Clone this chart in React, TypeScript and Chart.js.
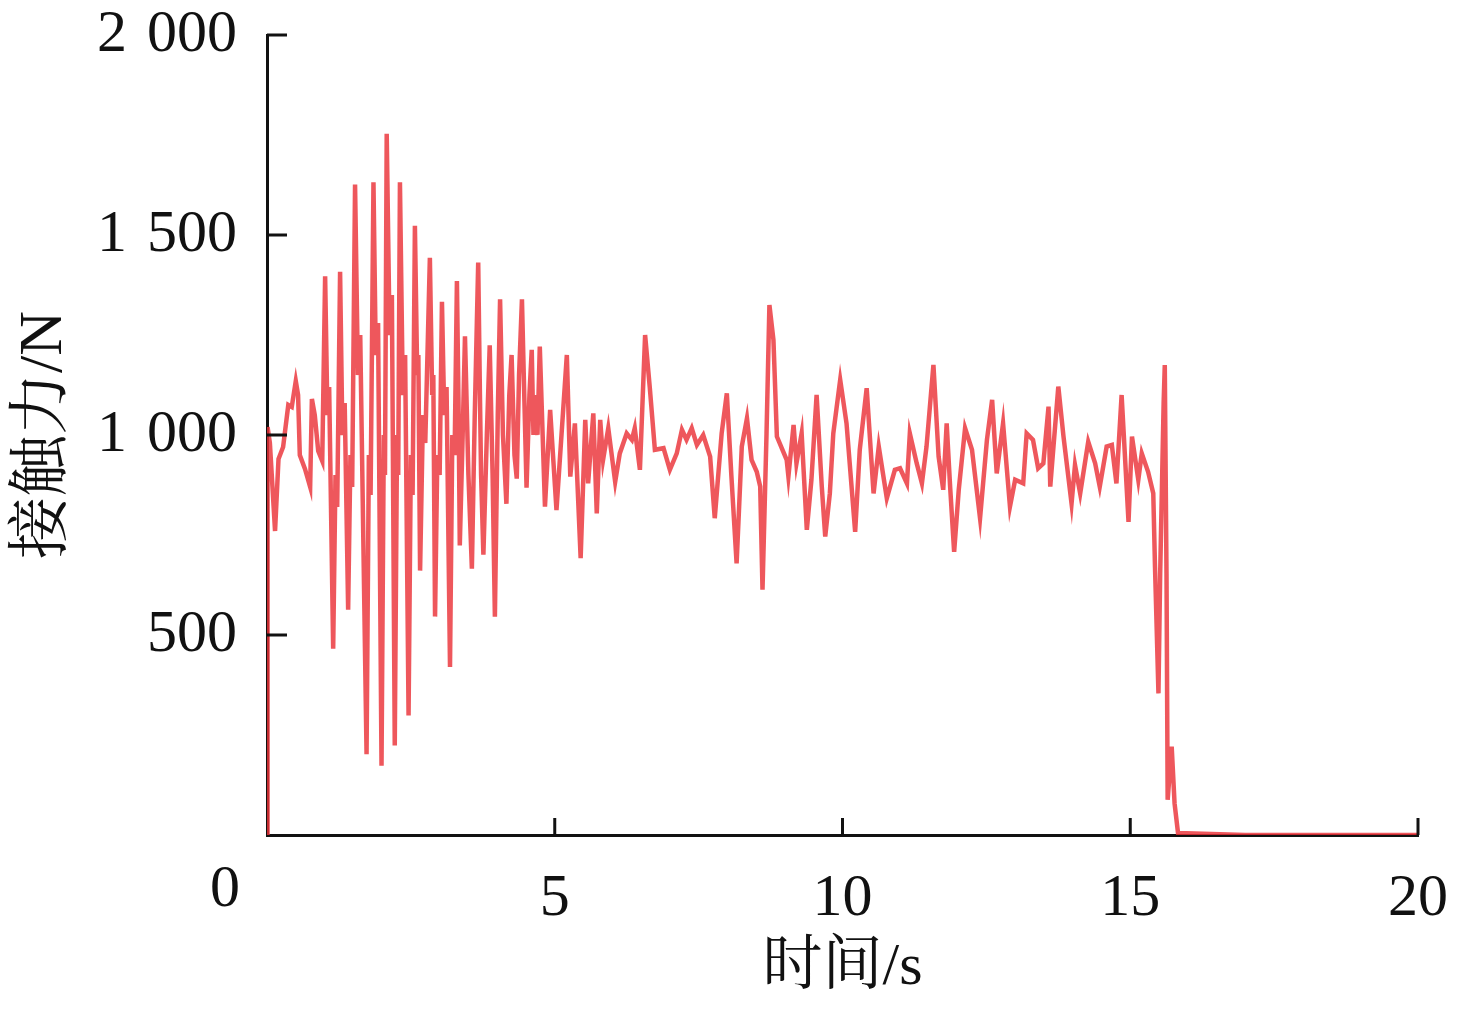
import React, { useEffect, useRef } from "react";
import { Chart, registerables } from "chart.js";

Chart.register(...registerables);

const times: number[] = [
  0.0, 0.01, 0.05, 0.14, 0.2, 0.28, 0.37, 0.43, 0.5, 0.54, 0.57, 0.66, 0.75, 0.78, 0.83, 0.89, 0.96,
  1.01, 1.05, 1.08, 1.15, 1.19, 1.22, 1.27, 1.31, 1.35, 1.41, 1.45, 1.48, 1.53, 1.58, 1.62, 1.73, 1.77,
  1.8, 1.85, 1.89, 1.93, 1.99, 2.03, 2.05, 2.08, 2.13, 2.17, 2.22, 2.26, 2.28, 2.31, 2.36, 2.4, 2.46,
  2.5, 2.53, 2.57, 2.61, 2.63, 2.66, 2.71, 2.75, 2.83, 2.87, 2.89, 2.92, 2.96, 3.0, 3.04, 3.08, 3.12,
  3.18, 3.22, 3.26, 3.3, 3.33, 3.35, 3.4, 3.44, 3.5, 3.56, 3.61, 3.67, 3.7, 3.72, 3.76, 3.82, 3.87,
  3.92, 3.96, 4.01, 4.05, 4.1, 4.16, 4.21, 4.25, 4.3, 4.34, 4.38, 4.43, 4.47, 4.51, 4.56, 4.6, 4.63,
  4.66, 4.7, 4.74, 4.83, 4.92, 5.03, 5.21, 5.27, 5.35, 5.45, 5.53, 5.58, 5.67, 5.73,
  5.79, 5.84, 5.93, 6.05, 6.13, 6.25, 6.34, 6.39, 6.48, 6.57, 6.65, 6.74, 6.89, 7.0, 7.12, 7.21, 7.29,
  7.38, 7.47, 7.58, 7.7, 7.78, 7.9, 7.99, 8.07, 8.16, 8.25, 8.34, 8.42, 8.51, 8.57, 8.61, 8.68, 8.73,
  8.8, 8.86, 9.03, 9.06, 9.15, 9.2, 9.29, 9.38, 9.46, 9.55, 9.64, 9.7, 9.78, 9.84, 9.96, 10.07, 10.22,
  10.3, 10.42, 10.54, 10.63, 10.77, 10.91, 11.0, 11.12, 11.17, 11.29, 11.38, 11.46, 11.58, 11.67, 11.75,
  11.81, 11.87, 11.94, 12.02, 12.13, 12.25, 12.39, 12.51, 12.6, 12.68, 12.79, 12.91, 13.0, 13.14, 13.2,
  13.31, 13.4, 13.49, 13.58, 13.61, 13.75, 13.84, 13.98, 14.04, 14.13, 14.27, 14.39, 14.47, 14.59, 14.68,
  14.76, 14.85, 14.97, 15.03, 15.14, 15.2, 15.31, 15.4, 15.43, 15.49, 15.52, 15.58, 15.6, 15.63, 15.65,
  15.72, 15.77, 15.83, 17.0, 18.5, 20.0,
];

const forces: number[] = [
  0, 1020, 980, 760, 940, 970, 1075, 1070, 1135, 1100, 950, 915, 870, 1090, 1050, 960, 935,
  1397, 1050, 1120, 466, 900, 820, 1408, 1000, 1080, 563, 950, 870, 1626, 1150, 1250, 202, 950,
  850, 1632, 1200, 1280, 173, 1000, 900, 1753, 1250, 1350, 224, 1000, 900, 1632, 1100, 1200, 299,
  950, 850, 1523, 1150, 1200, 661, 1050, 980, 1443, 1100, 1150, 546, 950, 900, 1333, 1050, 1120,
  420, 1000, 950, 1385, 1050, 724, 1000, 1247, 900, 666, 1050, 1431, 1100, 900, 701, 1000, 1224,
  900, 546, 1050, 1339, 1000, 828, 1100, 1200, 950, 891, 1150, 1339, 1100, 868, 1100, 1213, 1000,
  1100, 1000, 1221, 821, 1063, 812, 1200, 896, 1029, 692, 1038, 879, 1054, 804,
  1038, 938, 1017, 883, 954, 1004, 988, 1017, 913, 1250, 1121, 963, 967, 913, 954, 1013, 988,
  1017, 975, 1000, 946, 792, 1004, 1104, 896, 679, 971, 1042, 938, 908, 871, 613, 1004, 1325,
  1238, 996, 938, 896, 1025, 929, 1004, 763, 888, 1100, 871, 746, 854, 1004, 1138, 1029, 758,
  963, 1117, 854, 971, 842, 913, 917, 879, 1004, 929, 879, 971, 1175, 946, 863,
  1029, 871, 708, 863, 1017, 963, 792, 988, 1088, 904, 1029, 821, 888, 879, 1004,
  988, 917, 929, 1071, 871, 1121, 996, 829, 925, 854, 983, 929, 871, 971, 975,
  879, 1100, 783, 996, 888, 954, 908, 854, 671, 354, 654, 1079, 1175, 654, 88,
  221, 79, 5, 0, 0, 0,
];

const xTicks: number[] = [0, 5, 10, 15, 20];
const yTicks: number[] = [0, 500, 1000, 1500, 2000];
const xTitle = "时间/s";
const yTitle = "接触力/N";

const FONT = "'Liberation Serif', 'Times New Roman', 'Noto Serif CJK SC', 'Noto Sans CJK SC', serif";

function fmtY(v: number): string {
  if (v === 0) return "";
  if (v >= 1000) {
    const th = Math.floor(v / 1000);
    const rest = String(v % 1000).padStart(3, "0");
    return th + "\u2004" + rest;
  }
  return String(v);
}

export default function App() {
  const ref = useRef<HTMLCanvasElement | null>(null);

  useEffect(() => {
    document.body.style.margin = "0";
    const canvas = ref.current;
    if (!canvas) return;

    const tickPlugin = {
      id: "inwardTicks",
      afterDraw(chart: any) {
        const ctx = chart.ctx;
        const xs = chart.scales.x;
        const ys = chart.scales.y;
        const area = chart.chartArea;
        ctx.save();
        ctx.strokeStyle = "#111";
        ctx.lineWidth = 3;
        yTicks.forEach((v) => {
          if (v === 0) return;
          const y = ys.getPixelForValue(v);
          ctx.beginPath();
          ctx.moveTo(area.left, y);
          ctx.lineTo(area.left + 20, y);
          ctx.stroke();
        });
        xTicks.forEach((v) => {
          if (v === 0) return;
          const x = xs.getPixelForValue(v);
          ctx.beginPath();
          ctx.moveTo(x, area.bottom);
          ctx.lineTo(x, area.bottom - 17);
          ctx.stroke();
        });
        ctx.fillStyle = "#111";
        ctx.font = "60px " + FONT;
        ctx.textAlign = "center";
        ctx.textBaseline = "middle";
        ctx.fillText("0", area.left - 42, area.bottom + 55);
        ctx.restore();
      },
    };

    const chart = new Chart(canvas, {
      type: "line",
      data: {
        datasets: [
          {
            data: times.map((t, i) => ({ x: t, y: forces[i] })),
            borderColor: "rgba(234, 50, 56, 0.82)",
            borderWidth: 4.5,
            pointRadius: 0,
            tension: 0,
            fill: false,
          },
        ],
      },
      options: {
        responsive: false,
        animation: false,
        events: [],
        layout: { padding: { left: 0, right: 39, top: 35, bottom: 0 } },
        plugins: { legend: { display: false }, tooltip: { enabled: false } },
        scales: {
          x: {
            type: "linear",
            min: 0,
            max: 20,
            afterFit(scale: any) {
              scale.height = 175;
              scale.paddingLeft = 0;
              scale.paddingRight = 0;
            },
            afterBuildTicks(scale: any) {
              scale.ticks = xTicks.map((v) => ({ value: v }));
            },
            grid: { display: false },
            border: { display: true, color: "#111", width: 3 },
            ticks: {
              color: "#111",
              font: { family: FONT, size: 60 },
              padding: 20,
              maxRotation: 0,
              callback: (v: any) => (v === 0 ? "" : String(v)),
            },
            title: {
              display: true,
              text: xTitle,
              color: "#111",
              font: { family: FONT, size: 60 },
              padding: { top: 0, bottom: 6 },
            },
          },
          y: {
            type: "linear",
            min: 0,
            max: 2000,
            afterFit(scale: any) {
              scale.width = 267;
              scale.paddingTop = 0;
              scale.paddingBottom = 0;
            },
            afterBuildTicks(scale: any) {
              scale.ticks = yTicks.map((v) => ({ value: v }));
            },
            grid: { display: false },
            border: { display: true, color: "#111", width: 3 },
            ticks: {
              color: "#111",
              font: { family: FONT, size: 60 },
              padding: 22,
              callback: (v: any) => fmtY(Number(v)),
            },
            title: {
              display: true,
              text: yTitle,
              color: "#111",
              font: { family: FONT, size: 62 },
              padding: { top: 8, bottom: 0 },
            },
          },
        },
      },
      plugins: [tickPlugin],
    } as any);

    return () => chart.destroy();
  }, []);

  return (
    <div style={{ width: 1457, height: 1010, background: "#fff" }}>
      <canvas ref={ref} width={1457} height={1010} style={{ display: "block" }} />
    </div>
  );
}
